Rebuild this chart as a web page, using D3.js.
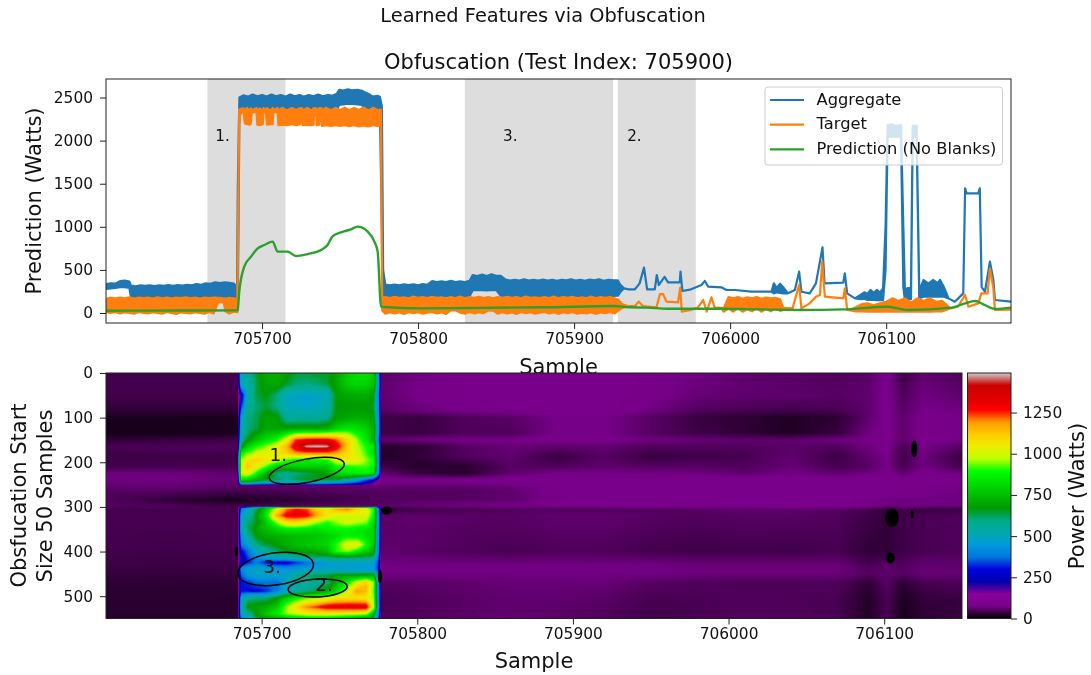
<!DOCTYPE html>
<html>
<head>
<meta charset="utf-8">
<script src="https://cdnjs.cloudflare.com/ajax/libs/d3/7.8.5/d3.min.js"></script>
<style>
html,body{margin:0;padding:0;background:#fff;}
svg{display:block;filter:blur(0.35px);}
text{font-family:"DejaVu Sans",sans-serif;fill:#111;}
.tick text{font-size:15.4px;}
</style>
</head>
<body>
<script>
/* values */
var firstSample = 705600;

// top panel: band of each noisy series, sample is offset from firstSample
var aggregateOffset = [0,3,6,9,12,15,
	16,19,22,25,28,31,34,37,40,43,46,49,52,55,58,61,64,67,70,73,76,79,82,84,
	84.5,85.5,
	88,91,94,97,100,103,106,109,112,115,118,121,124,127,130,133,136,139,142,145,148,
	149.5,152,155,158,161,164,165.5,
	168,171,174,175.5,176.8,177.6,
	179,182,185,188,191,194,197,200,203,206,
	209,212,215,218,221,224,227,230,233,
	235,238,241,244,247,250,253,
	256,259,262,265,268,271,274,277,280,283,286,289,292,295,298,301,304,307,310,313,316,319,322,325,328,
	329.5,332,335,339,342,344.8,346.8,351.7,353,354.3,358,360.2,367.7,368.2,369.4,375,381.6,383.8,386,394.4,397.6,403,413.7,426.5,
	428,430,432,434,
	437,441.5,444.2,445.7,451,455,459.2,460.5,472.5,473.5,475,480,
	484,486,488,490,492,494,496,498,
	499.6,500.9,503,506,509.5,511,512,514,515.9,517,519.5,521.2,
	524,527,530,533,534.5,537,540,544,549.4,550.6,551.6,559,560,561.2,563.3,566.5,568.7,569.7,580];
var aggregateLow = [280,285,290,300,300,290,
	185,180,182,180,185,182,180,185,180,182,180,185,182,180,185,182,180,178,182,180,185,180,175,170,
	170,2300,
	2360,2360,2360,2360,2360,2360,2360,2360,2360,2360,2360,2360,2360,2360,2360,2360,2360,2360,2360,2360,2360,
	2415,2420,2430,2425,2420,2415,2380,
	2365,2365,2365,2365,1000,175,
	190,190,190,190,190,190,190,190,190,190,
	195,195,195,195,195,195,195,195,195,
	265,268,265,262,265,268,200,
	197,197,197,197,197,197,197,197,197,197,197,197,197,197,197,197,197,197,197,197,197,197,197,197,200,
	240,286,275,275,344,526,275,275,441,325,420,356,356,480,255,275,325,371,305,298,267,267,247,247,
	228,240,232,228,
	228,267,479,247,228,344,762,344,352,460,228,170,
	160,165,151,155,151,150,150,150,
	500,2046,2046,2046,2046,300,151,160,160,2050,2050,170,
	190,190,190,190,190,190,170,131,228,1446,1388,1388,1446,300,247,595,383,151,131];
var aggregateHigh = [335,345,340,370,375,365,
	318,310,320,315,322,312,322,315,325,316,325,318,328,320,335,328,345,338,355,348,355,350,340,300,
	1500,2500,
	2525,2510,2535,2515,2530,2512,2535,2515,2528,2510,2535,2515,2530,2510,2528,2515,2535,2515,2530,2520,2545,
	2590,2580,2595,2582,2590,2578,2565,
	2545,2510,2520,2510,2400,500,
	330,322,330,320,332,325,332,322,335,328,
	370,358,368,360,372,360,368,360,372,
	440,428,445,430,448,432,430,
	388,375,386,376,390,375,384,376,388,376,386,372,384,378,390,376,386,374,388,378,390,374,386,378,380,
	330,286,275,275,344,526,275,275,441,325,420,356,356,480,255,275,325,371,305,298,267,267,247,247,
	344,290,340,300,
	228,267,479,247,228,344,762,344,352,460,228,170,
	215,240,220,267,235,267,240,285,
	1000,2181,2190,2170,2181,1000,267,290,290,2170,2170,260,
	383,340,383,345,383,300,170,131,228,1446,1388,1388,1446,300,247,595,383,151,131];

var targetOffset = [0,3,6,9,12,15,18,21,24,27,30,33,36,39,42,45,48,51,54,57,60,63,66,69,72,75.5,76.5,79,82,84,
	84.2,85.3,86.5,88,89,90.5,92,92.8,93.5,96.4,97,98.5,100.5,101,102.5,103.2,105.5,106.8,107.3,110,110.5,
	113,116,119,122,124.4,124.8,125.6,126,129,132,133,133.4,134.6,135,136.8,137.2,138,138.5,
	141,144,147,150,153,156,159,162,165,168,171,174,176.2,177,
	179,182,185,188,191,194,197,200,203,206,209,212,215,218,221,224,227,230,233,236,239,242,245,248,251,
	254,257,260,263,266,269,272,275,278,281,284,287,290,293,296,299,302,305,308,311,314,317,320,323,326,
	328.5,331,334.6,339,341.4,344,352.8,355,357,359.2,366.6,368,369,375,379.5,382.7,385,388,390,
	394,396,399,402,405,408,411,414,417,420,423,426,429,432,434,
	440,444.2,445.7,451,455,457.5,459,460.7,472.5,473.5,475,480,
	484,488,492,496,500,504,508,512,516,520,524,528,532,536,
	541,546,550.5,552.7,559,561,565,566.5,568.7,569.7,580];
var targetLow = [10,0,12,-5,10,2,-8,12,0,-5,10,2,-8,12,0,-10,8,2,-5,10,0,-8,12,-5,128,125,20,-5,15,10,
	10,2200,2350,2340,2200,2190,2185,2195,2330,2330,2185,2180,2190,2330,2330,2185,2190,2190,2330,2330,2180,
	2185,2180,2190,2180,2190,2330,2330,2180,2185,2180,2185,2330,2330,2180,2185,2330,2330,2170,
	2180,2170,2180,2170,2178,2168,2180,2165,2175,2165,2178,2170,2180,30,
	-8,10,-5,8,-10,12,-2,10,-8,5,12,-5,8,-10,30,32,5,-8,12,-5,10,-2,30,28,-8,
	10,-5,8,-10,12,-2,10,-8,5,12,-5,8,-10,10,-2,12,-8,5,-5,10,-10,8,-2,12,-5,
	30,60,81,81,132,81,66,220,220,132,124,294,16,35,66,151,15,182,66,
	60,15,55,15,60,15,45,20,60,15,50,20,55,25,35,
	54,325,54,112,189,208,596,189,170,286,35,20,
	20,15,20,15,15,20,15,15,15,15,20,15,20,20,
	54,73,209,73,112,228,228,516,286,35,40];
var targetHigh = [165,178,168,180,170,182,168,178,172,180,168,182,170,178,168,180,172,182,170,178,168,180,172,178,175,170,165,175,170,160,
	180,2360,2370,2375,2360,2380,2350,2375,2355,2380,2350,2375,2350,2378,2352,2378,2350,2380,2355,2378,2350,
	2380,2350,2378,2355,2378,2350,2378,2352,2380,2350,2378,2352,2378,2350,2378,2352,2378,2350,
	2382,2352,2380,2355,2382,2352,2380,2355,2385,2350,2380,2355,2360,180,
	185,172,188,175,182,170,190,176,184,172,188,175,182,170,186,174,190,172,184,176,188,172,186,170,184,
	172,188,176,184,170,190,175,182,172,186,174,190,172,184,176,188,170,182,174,190,172,186,176,184,170,
	150,100,81,81,132,81,66,220,220,132,124,294,16,35,66,151,15,182,66,
	60,60,185,170,185,165,182,170,185,165,180,170,175,160,60,
	54,325,54,112,189,208,596,189,170,286,35,60,
	100,112,90,112,130,170,140,170,120,170,140,170,130,140,
	54,73,209,73,112,228,228,516,286,35,40];

var predictionOffset = [0,30,60,84,84.4,85.4,88.6,92.9,97.2,101.5,106.8,110,116.4,121.8,129.3,137.8,142,145.3,150.6,157,161.3,167.7,172,174.1,176.3,
	202,240,280,326,335,347,360,394,420,445,473,501,514,542,550.5,557,563,570,580];
var predictionWatts = [27,28,29,30,35,248,537,653,750,789,828,712,712,661,684,731,789,893,936,971,1002,944,828,712,73,
	54,60,66,81,66,62,50,50,42,35,42,73,35,62,112,139,93,46,62];

var seriesNames = ['Aggregate','Target','Prediction (No Blanks)'];
var seriesColors = ['#1f77b4','#ff7f0e','#2ca02c'];

var spanStart = [705665,705830,705928];
var spanEnd = [705715,705925,705978];
var spanLabel = ['1.','3.','2.'];
var spanLabelSample = [705670,705854.5,705934];
var spanLabelWatts = [1995,1995,1995];

var xTicks = [705700,705800,705900,706000,706100];
var wattTicks = [0,500,1000,1500,2000,2500];
var startTicks = [0,100,200,300,400,500];
var powerTicks = [0,250,500,750,1000,1250];

// heat map away from the two bright blocks
var backSample = [705600,705640,705680,705780,705800,705830,705860,705890,705920,705950,705980,706010,706040,706070,706090,706102,706112,706125,706150];
var backStart = [0,50,85,100,135,150,165,190,210,225,240,262,285,298,306,320,400,430,450,470,510,550];
var backPower = [
	[42,42,42,60,70,80,85,85,85,80,70,60,55,50,55,80,40,60,50],
	[42,42,42,62,75,82,85,85,85,78,65,60,58,55,60,80,50,70,60],
	[30,30,30,55,65,75,80,85,85,70,50,45,40,45,60,80,55,75,70],
	[16,16,16,40,35,50,55,75,75,55,35,28,20,28,60,80,60,80,75],
	[14,14,16,40,35,50,50,75,75,55,40,30,20,35,70,80,60,80,75],
	[30,34,40,60,70,75,75,80,80,70,65,60,60,70,75,80,60,80,75],
	[45,48,50,25,28,55,65,60,62,50,50,50,58,50,70,80,45,75,55],
	[38,40,38,22,30,50,60,35,55,35,40,45,60,38,60,75,40,70,35],
	[42,45,45,40,25,25,55,50,60,55,55,50,65,45,55,75,45,70,45],
	[68,68,60,60,35,25,60,75,75,70,70,60,72,60,70,80,60,80,70],
	[70,72,65,80,80,80,85,85,85,85,85,85,85,85,85,85,80,85,85],
	[55,58,48,55,52,52,60,80,85,85,85,85,85,85,85,85,82,80,70],
	[50,30,15,50,52,55,60,80,85,85,85,85,85,85,75,70,70,70,70],
	[55,50,40,60,65,70,75,80,85,85,85,80,85,85,80,70,70,70,70],
	[42,42,42,30,40,45,50,50,50,50,55,60,60,55,45,30,45,35,35],
	[45,45,45,55,60,55,55,60,60,55,50,55,55,50,40,30,40,45,50],
	[42,40,42,60,55,50,45,50,50,42,40,42,40,45,30,30,40,45,50],
	[38,36,38,70,70,70,70,72,70,70,65,65,65,65,45,55,50,60,60],
	[35,35,35,72,72,72,72,72,72,72,68,68,68,68,55,60,55,65,65],
	[28,28,28,55,55,60,65,65,65,55,50,48,48,50,30,55,30,45,50],
	[25,25,25,45,50,55,60,60,55,45,45,50,48,45,22,45,18,30,35],
	[25,25,25,50,50,55,60,55,50,40,45,50,50,45,22,45,15,30,35]];

// heat map inside the bright blocks (705685 to 705777)
var blockSample = [705685,705687,705691,705697,705703,705710,705716,705722,705729,705735,705742,705748,705755,705761,705767,705772,705775,705777];
var blockStart = [0,25,50,75,100,125,150,165,180,195,210,225,240,249,252,300,304,320,335,350,365,385,400,415,425,440,455,470,490,505,525,540,550];
var blockPower = [
	[200,540,560,650,710,720,690,640,640,650,650,700,780,820,830,780,480,90],
	[180,520,530,640,700,710,650,610,600,610,640,700,790,810,800,760,480,90],
	[110,230,520,640,670,600,490,480,470,480,500,680,700,710,720,680,400,90],
	[120,330,560,610,640,590,500,490,480,490,530,670,670,670,670,650,420,90],
	[170,470,600,630,700,680,560,560,560,560,580,680,700,720,710,680,450,90],
	[180,510,600,640,700,700,700,700,710,700,720,800,850,830,800,720,480,90],
	[200,570,650,760,830,890,1040,1250,1290,1300,1300,1230,1100,960,850,720,400,90],
	[240,640,800,900,950,1030,1150,1340,1480,1490,1480,1320,1120,980,900,840,450,90],
	[320,860,930,1000,1020,1060,1110,1180,1200,1200,1200,1170,1090,1000,920,820,450,90],
	[360,950,1060,1100,1060,1010,930,880,860,880,900,1020,1050,1050,950,900,480,90],
	[360,1000,1120,1030,920,780,780,800,800,790,780,880,900,910,920,880,480,90],
	[300,1000,1040,880,720,600,560,600,630,650,700,810,850,870,880,820,420,90],
	[260,850,800,720,650,620,600,630,660,660,640,640,560,480,350,240,160,90],
	[170,480,450,420,400,380,370,380,390,390,380,360,300,270,220,150,110,80],
	[80,120,170,160,150,150,150,150,150,150,150,140,130,120,110,90,80,70],
	[70,180,260,300,320,380,430,450,450,440,430,430,430,430,430,400,200,70],
	[100,380,480,620,800,1020,1200,1260,1230,1120,1060,1180,1230,1120,1050,900,450,90],
	[140,470,530,680,860,1180,1290,1310,1290,1190,1060,1000,1000,1000,1020,870,480,90],
	[140,490,600,660,780,960,1080,1100,1040,960,900,950,1000,970,950,820,480,90],
	[140,510,620,700,760,820,860,860,850,830,870,880,880,860,840,800,450,90],
	[140,440,560,680,710,730,740,750,760,770,790,820,860,850,830,790,440,90],
	[140,390,450,600,640,680,720,750,770,790,810,900,1030,1040,900,770,420,90],
	[120,290,370,500,560,620,660,680,700,710,750,900,950,880,800,730,400,90],
	[110,240,330,430,470,510,530,560,580,600,600,610,610,610,600,590,350,85],
	[110,260,310,380,300,270,270,320,370,420,470,480,480,480,480,470,320,85],
	[180,420,470,500,490,450,440,450,460,460,470,470,460,450,450,440,300,85],
	[140,350,430,480,475,480,480,570,620,640,650,700,700,710,720,710,380,85],
	[120,300,320,370,380,360,500,530,540,570,590,720,850,1020,1120,950,450,85],
	[120,310,300,290,320,400,480,540,580,640,720,820,1000,1180,1150,920,450,85],
	[140,470,580,600,600,680,790,860,920,960,1000,1060,1070,1070,1050,950,450,85],
	[150,510,680,700,720,790,950,1080,1200,1250,1320,1330,1340,1340,1340,1000,500,85],
	[140,470,560,680,780,870,960,1000,1040,1050,1050,1040,1030,1020,1000,750,400,85],
	[120,410,500,640,680,720,770,800,820,830,830,810,780,740,700,640,350,85]];

// the black specks in the heat map
var speckSample = [706105,706119.3,706104,706118,705780.4,705776,705684];
var speckStart = [324,170,414,316,308,456,400];
var speckWidth = [8.6,4,6,2,7,2.6,1.8];
var speckHeight = [42,38,24,22,18,30,22];

// circled regions on the heat map
var ringSample = [705729,705709,705736];
var ringStart = [219,439,481.6];
var ringWidth = [49,49,38];
var ringHeight = [52,72,40];
var ringAngle = [-11,-8,-3];
var ringLabel = ['1.','3.','2.'];
var ringLabelSample = [705705,705701,705734.5];
var ringLabelStart = [198,447,488];

// nipy_spectral
var colorStops = ['#000000','#770088','#880099','#0000aa','#0000dd','#0077dd','#0099dd','#00aaaa','#00aa88','#009900','#00bb00','#00dd00','#00ff00','#bbff00','#eeee00','#ffcc00','#ff9900','#ff0000','#dd0000','#cc0000','#cccccc'];
var powerMax = 1490;

/* layout */
var width = 1091, height = 675;
var upper = {l:106,r:1011,t:79,b:323};
var heat = {l:106,r:962,t:373,b:618.5};
var bar = {l:967.5,r:1011};

var svg = d3.select('body').append('svg')
	.attr('width',width)
	.attr('height',height);

var defs = svg.append('defs');
defs.append('clipPath').attr('id','topclip').append('rect')
	.attr('x',upper.l).attr('y',upper.t).attr('width',upper.r-upper.l).attr('height',upper.b-upper.t);
defs.append('clipPath').attr('id','heatclip').append('rect')
	.attr('x',heat.l).attr('y',heat.t).attr('width',heat.r-heat.l).attr('height',heat.b-heat.t);

svg.append('text').attr('x',543).attr('y',22).attr('text-anchor','middle')
	.style('font-size','19.4px').text('Learned Features via Obfuscation');

/* top panel */
var xTop = d3.scaleLinear().domain([705600,706180]).range([upper.l,upper.r]);
var yTop = d3.scaleLinear().domain([-116,2715]).range([upper.b,upper.t]);

svg.append('text').attr('x',(upper.l+upper.r)/2).attr('y',69).attr('text-anchor','middle')
	.style('font-size','21px').text('Obfuscation (Test Index: 705900)');

var topPlot = svg.append('g').attr('clip-path','url(#topclip)');

topPlot.selectAll('.span')
	.data(d3.zip(spanStart,spanEnd))
	.enter()
	.append('rect')
	.attr('class','span')
	.attr('x',function (d) {return xTop(d[0]);})
	.attr('width',function (d) {return xTop(d[1])-xTop(d[0]);})
	.attr('y',upper.t)
	.attr('height',upper.b-upper.t)
	.style('fill','#dddddd');

var band = d3.area()
	.x(function (d) {return xTop(firstSample+d[0]);})
	.y0(function (d) {return yTop(d[1]);})
	.y1(function (d) {return yTop(d[2]);});

function drawBand(rows,color) {
	topPlot.append('path')
		.attr('d',band(rows))
		.style('fill',color)
		.style('stroke',color)
		.style('stroke-width',2.2)
		.style('stroke-linejoin','round');
}
drawBand(d3.zip(aggregateOffset,aggregateLow,aggregateHigh),seriesColors[0]);
drawBand(d3.zip(targetOffset,targetLow,targetHigh),seriesColors[1]);

var predictionLine = d3.line()
	.curve(d3.curveMonotoneX)
	.x(function (d) {return xTop(firstSample+d[0]);})
	.y(function (d) {return yTop(d[1]);});
topPlot.append('path')
	.attr('d',predictionLine(d3.zip(predictionOffset,predictionWatts)))
	.style('fill','none')
	.style('stroke',seriesColors[2])
	.style('stroke-width',2.4)
	.style('stroke-linejoin','round');

topPlot.selectAll('.spanlabel')
	.data(spanLabel)
	.enter()
	.append('text')
	.attr('class','spanlabel')
	.attr('x',function (d,i) {return xTop(spanLabelSample[i]);})
	.attr('y',function (d,i) {return yTop(spanLabelWatts[i]);})
	.style('font-size','15.2px')
	.text(function (d) {return d;});

// legend sits on the lines with a see-through box
var legend = svg.append('g').attr('transform','translate(765,87)');
legend.append('rect')
	.attr('width',237.5)
	.attr('height',78)
	.attr('rx',3)
	.style('fill','#fff')
	.style('fill-opacity',0.8)
	.style('stroke','#ccc');
legend.selectAll('.key')
	.data(seriesNames)
	.enter()
	.append('line')
	.attr('class','key')
	.attr('x1',5)
	.attr('x2',39)
	.attr('y1',function (d,i) {return 13+i*24.7;})
	.attr('y2',function (d,i) {return 13+i*24.7;})
	.style('stroke',function (d,i) {return seriesColors[i];})
	.style('stroke-width',2.2);
legend.selectAll('.keytext')
	.data(seriesNames)
	.enter()
	.append('text')
	.attr('class','keytext')
	.attr('x',51.5)
	.attr('y',function (d,i) {return 17.7+i*24.7;})
	.style('font-size','16.3px')
	.text(function (d) {return d;});

drawFrame(upper.l,upper.t,upper.r,upper.b);
drawAxis(d3.axisBottom(xTop).tickValues(xTicks).tickFormat(d3.format('d')),0,upper.b,4);
drawAxis(d3.axisLeft(yTop).tickValues(wattTicks).tickFormat(d3.format('d')),upper.l,0,7);

svg.append('text').attr('x',(upper.l+upper.r)/2).attr('y',374).attr('text-anchor','middle')
	.style('font-size','21px').text('Sample');
svg.append('text').attr('transform','translate(40.7,201) rotate(-90)').attr('text-anchor','middle')
	.style('font-size','21px').text('Prediction (Watts)');

/* heat map */
var xHeat = d3.scaleLinear().domain([705600,706150]).range([heat.l,heat.r]);
var yHeat = d3.scaleLinear().domain([0,550]).range([heat.t,heat.b]);
var colorAt = d3.scaleLinear()
	.domain(colorStops.map(function (d,i) {return i/(colorStops.length-1)*powerMax;}))
	.range(colorStops)
	.interpolate(d3.interpolateRgb)
	.clamp(true);

function lookup(xs,ys,grid,x,y) {
	var i = Math.max(0,Math.min(xs.length-2,d3.bisectRight(xs,x)-1));
	var j = Math.max(0,Math.min(ys.length-2,d3.bisectRight(ys,y)-1));
	var tx = Math.max(0,Math.min(1,(x-xs[i])/(xs[i+1]-xs[i])));
	var ty = Math.max(0,Math.min(1,(y-ys[j])/(ys[j+1]-ys[j])));
	var a = grid[j][i]*(1-tx)+grid[j][i+1]*tx;
	var b = grid[j+1][i]*(1-tx)+grid[j+1][i+1]*tx;
	return a*(1-ty)+b*ty;
}

// same as imshow with bilinear smoothing: colour each pixel from the read grid
var heatW = heat.r-heat.l, heatH = Math.round(heat.b-heat.t);
var canvas = document.createElement('canvas');
canvas.width = heatW;
canvas.height = heatH;
var ctx = canvas.getContext('2d');
var pixels = ctx.createImageData(heatW,heatH);
for (var py=0; py<heatH; py++) {
	var start = yHeat.invert(heat.t+py+0.5);
	for (var px=0; px<heatW; px++) {
		var sample = xHeat.invert(heat.l+px+0.5);
		var inBlock = sample>=705685 && sample<=705777 && (start<=252 || start>=300);
		var power = inBlock ? lookup(blockSample,blockStart,blockPower,sample,start)
			: lookup(backSample,backStart,backPower,sample,start);
		var c = d3.rgb(colorAt(power));
		var k = (py*heatW+px)*4;
		pixels.data[k] = c.r;
		pixels.data[k+1] = c.g;
		pixels.data[k+2] = c.b;
		pixels.data[k+3] = 255;
	}
}
ctx.putImageData(pixels,0,0);

var heatPlot = svg.append('g').attr('clip-path','url(#heatclip)');
heatPlot.append('image')
	.attr('x',heat.l)
	.attr('y',heat.t)
	.attr('width',heatW)
	.attr('height',heat.b-heat.t)
	.attr('preserveAspectRatio','none')
	.attr('href',canvas.toDataURL());

heatPlot.selectAll('.speck')
	.data(speckSample)
	.enter()
	.append('ellipse')
	.attr('class','speck')
	.attr('cx',function (d) {return xHeat(d);})
	.attr('cy',function (d,i) {return yHeat(speckStart[i]);})
	.attr('rx',function (d,i) {return xHeat(d+speckWidth[i]/2)-xHeat(d);})
	.attr('ry',function (d,i) {return yHeat(speckHeight[i]/2)-yHeat(0);})
	.style('fill','#000');

heatPlot.selectAll('.ring')
	.data(ringSample)
	.enter()
	.append('ellipse')
	.attr('class','ring')
	.attr('transform',function (d,i) {
		return 'translate('+xHeat(d)+','+yHeat(ringStart[i])+') rotate('+ringAngle[i]+')';
	})
	.attr('rx',function (d,i) {return xHeat(d+ringWidth[i]/2)-xHeat(d);})
	.attr('ry',function (d,i) {return yHeat(ringHeight[i]/2)-yHeat(0);})
	.style('fill','none')
	.style('stroke','#000')
	.style('stroke-width',1.5);

heatPlot.selectAll('.ringlabel')
	.data(ringLabel)
	.enter()
	.append('text')
	.attr('class','ringlabel')
	.attr('x',function (d,i) {return xHeat(ringLabelSample[i]);})
	.attr('y',function (d,i) {return yHeat(ringLabelStart[i]);})
	.style('font-size','18.5px')
	.text(function (d) {return d;});

drawFrame(heat.l,heat.t,heat.r,heat.b);
drawAxis(d3.axisBottom(xHeat).tickValues(xTicks).tickFormat(d3.format('d')),0,heat.b,4);
drawAxis(d3.axisLeft(yHeat).tickValues(startTicks),heat.l,0,7);

svg.append('text').attr('x',(heat.l+heat.r)/2).attr('y',668).attr('text-anchor','middle')
	.style('font-size','21px').text('Sample');
svg.append('text').attr('transform','translate(26,495.5) rotate(-90)').attr('text-anchor','middle')
	.style('font-size','21px').text('Obsfucation Start');
svg.append('text').attr('transform','translate(52,496) rotate(-90)').attr('text-anchor','middle')
	.style('font-size','21px').text('Size 50 Samples');

/* colour bar */
var yBar = d3.scaleLinear().domain([0,powerMax]).range([heat.b,heat.t]);
var grad = defs.append('linearGradient')
	.attr('id','powerbar')
	.attr('x1',0).attr('x2',0).attr('y1',1).attr('y2',0);
grad.selectAll('stop')
	.data(colorStops)
	.enter()
	.append('stop')
	.attr('offset',function (d,i) {return i/(colorStops.length-1);})
	.attr('stop-color',function (d) {return d;});
svg.append('rect')
	.attr('x',bar.l)
	.attr('y',heat.t)
	.attr('width',bar.r-bar.l)
	.attr('height',heat.b-heat.t)
	.style('fill','url(#powerbar)');
drawFrame(bar.l,heat.t,bar.r,heat.b);
drawAxis(d3.axisRight(yBar).tickValues(powerTicks).tickFormat(d3.format('d')),bar.r,0,6);
svg.append('text').attr('transform','translate(1084,496) rotate(-90)').attr('text-anchor','middle')
	.style('font-size','21px').text('Power (Watts)');

function drawFrame(x0,y0,x1,y1) {
	svg.append('rect')
		.attr('x',x0).attr('y',y0)
		.attr('width',x1-x0).attr('height',y1-y0)
		.style('fill','none')
		.style('stroke','#222')
		.style('stroke-width',1);
}

function drawAxis(axis,x,y,pad) {
	var g = svg.append('g')
		.attr('transform','translate('+x+','+y+')')
		.call(axis.tickSize(6).tickSizeOuter(0).tickPadding(pad));
	g.select('.domain').remove();
	g.selectAll('.tick line').style('stroke','#222');
}
</script>
</body>
</html>
